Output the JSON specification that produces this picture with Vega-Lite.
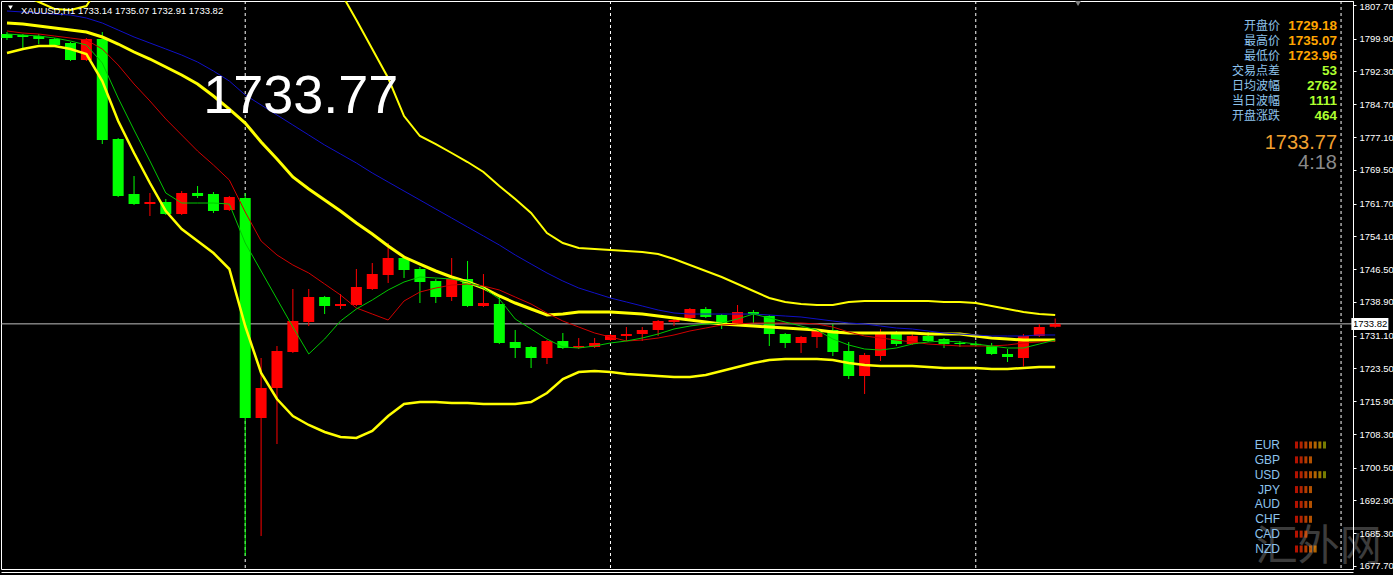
{
  "$schema": "https://vega.github.io/schema/vega-lite/v6.json",
  "width": 1352,
  "height": 568,
  "autosize": {"type": "pad"},
  "padding": 0,
  "background": "#000000",
  "config": {
    "view": {"stroke": "#ffffff", "strokeWidth": 1},
    "text": {"font": "Liberation Sans"}
  },
  "datasets": {
    "bars": [
      {"i":0,"o":1800.98,"h":1801.44,"l":1799.59,"c":1800.05,"fast":1800.98,"mid":1801.68,"slow":1806.31,"up":1810.94,"ma":1803.53,"dn":1796.58},
      {"i":1,"o":1800.75,"h":1800.98,"l":1797.51,"c":1800.29,"fast":1800.75,"mid":1801.21,"slow":1806.08,"up":1810.02,"ma":1803.30,"dn":1797.51},
      {"i":2,"o":1800.52,"h":1800.98,"l":1798.66,"c":1799.82,"fast":1800.52,"mid":1800.98,"slow":1805.85,"up":1808.40,"ma":1802.83,"dn":1798.20},
      {"i":3,"o":1799.82,"h":1800.05,"l":1798.20,"c":1798.43,"fast":1800.05,"mid":1800.52,"slow":1805.61,"up":1806.77,"ma":1802.37,"dn":1798.20},
      {"i":4,"o":1798.90,"h":1799.13,"l":1794.73,"c":1794.96,"fast":1799.36,"mid":1800.05,"slow":1805.38,"up":1806.54,"ma":1801.91,"dn":1797.51},
      {"i":5,"o":1794.96,"h":1800.05,"l":1794.73,"c":1799.82,"fast":1798.43,"mid":1799.59,"slow":1804.69,"up":1807.47,"ma":1801.44,"dn":1796.35},
      {"i":6,"o":1799.82,"h":1801.44,"l":1775.49,"c":1776.42,"fast":1794.26,"mid":1797.51,"slow":1803.53,"up":1813.26,"ma":1800.29,"dn":1790.09},
      {"i":7,"o":1776.65,"h":1776.88,"l":1763.21,"c":1763.45,"fast":1786.15,"mid":1793.80,"slow":1801.91,"up":1816.50,"ma":1798.66,"dn":1780.82},
      {"i":8,"o":1763.91,"h":1768.08,"l":1761.36,"c":1761.59,"fast":1778.74,"mid":1789.40,"slow":1800.29,"up":1820.21,"ma":1796.81,"dn":1773.41},
      {"i":9,"o":1761.59,"h":1764.14,"l":1758.81,"c":1762.06,"fast":1771.56,"mid":1785.46,"slow":1798.90,"up":1823.92,"ma":1795.19,"dn":1766.46},
      {"i":10,"o":1762.06,"h":1762.75,"l":1759.04,"c":1759.28,"fast":1764.14,"mid":1781.29,"slow":1797.51,"up":1826.70,"ma":1793.34,"dn":1759.97},
      {"i":11,"o":1759.28,"h":1764.60,"l":1759.04,"c":1764.14,"fast":1761.82,"mid":1777.58,"slow":1796.11,"up":1827.16,"ma":1791.48,"dn":1755.80},
      {"i":12,"o":1764.14,"h":1765.76,"l":1762.98,"c":1763.45,"fast":1761.82,"mid":1773.87,"slow":1794.49,"up":1826.70,"ma":1789.40,"dn":1753.02},
      {"i":13,"o":1763.91,"h":1764.37,"l":1759.51,"c":1759.97,"fast":1761.82,"mid":1770.63,"slow":1792.41,"up":1825.31,"ma":1786.62,"dn":1750.24},
      {"i":14,"o":1760.20,"h":1763.45,"l":1759.97,"c":1763.21,"fast":1761.59,"mid":1767.15,"slow":1790.09,"up":1822.53,"ma":1783.60,"dn":1746.53},
      {"i":15,"o":1762.98,"h":1764.14,"l":1680.03,"c":1712.01,"fast":1752.56,"mid":1759.74,"slow":1786.85,"up":1827.16,"ma":1780.36,"dn":1733.32},
      {"i":16,"o":1712.01,"h":1725.91,"l":1684.67,"c":1718.96,"fast":1746.07,"mid":1753.02,"slow":1784.53,"up":1830.87,"ma":1775.96,"dn":1722.43},
      {"i":17,"o":1718.96,"h":1728.69,"l":1705.98,"c":1727.53,"fast":1739.58,"mid":1749.78,"slow":1782.21,"up":1828.32,"ma":1772.02,"dn":1716.41},
      {"i":18,"o":1727.30,"h":1741.90,"l":1727.07,"c":1734.48,"fast":1733.09,"mid":1747.46,"slow":1779.90,"up":1823.69,"ma":1767.85,"dn":1712.47},
      {"i":19,"o":1734.25,"h":1741.90,"l":1733.32,"c":1740.04,"fast":1726.84,"mid":1745.61,"slow":1777.58,"up":1820.21,"ma":1765.07,"dn":1710.39},
      {"i":20,"o":1740.04,"h":1740.28,"l":1736.10,"c":1737.96,"fast":1730.31,"mid":1743.06,"slow":1775.26,"up":1816.97,"ma":1762.52,"dn":1708.76},
      {"i":21,"o":1737.96,"h":1740.74,"l":1737.26,"c":1738.42,"fast":1734.48,"mid":1740.51,"slow":1773.18,"up":1810.71,"ma":1759.97,"dn":1707.61},
      {"i":22,"o":1738.19,"h":1746.53,"l":1737.96,"c":1742.36,"fast":1737.26,"mid":1737.50,"slow":1771.09,"up":1804.22,"ma":1757.19,"dn":1707.37},
      {"i":23,"o":1741.90,"h":1747.92,"l":1741.67,"c":1745.37,"fast":1739.35,"mid":1736.10,"slow":1768.78,"up":1797.51,"ma":1754.64,"dn":1709.00},
      {"i":24,"o":1745.14,"h":1752.56,"l":1743.29,"c":1749.08,"fast":1741.67,"mid":1734.71,"slow":1766.69,"up":1790.79,"ma":1751.86,"dn":1712.47},
      {"i":25,"o":1749.08,"h":1749.54,"l":1744.45,"c":1746.30,"fast":1743.52,"mid":1739.12,"slow":1764.60,"up":1781.98,"ma":1749.31,"dn":1715.25},
      {"i":26,"o":1746.53,"h":1747.00,"l":1738.65,"c":1743.52,"fast":1744.68,"mid":1741.20,"slow":1762.52,"up":1777.35,"ma":1747.69,"dn":1715.72},
      {"i":27,"o":1743.75,"h":1744.21,"l":1738.65,"c":1740.04,"fast":1744.45,"mid":1742.13,"slow":1760.43,"up":1775.49,"ma":1746.07,"dn":1715.72},
      {"i":28,"o":1740.04,"h":1749.08,"l":1739.12,"c":1744.21,"fast":1744.21,"mid":1742.82,"slow":1758.35,"up":1773.41,"ma":1744.68,"dn":1715.48},
      {"i":29,"o":1744.21,"h":1748.39,"l":1737.73,"c":1737.96,"fast":1743.52,"mid":1743.06,"slow":1756.26,"up":1771.32,"ma":1743.52,"dn":1715.48},
      {"i":30,"o":1737.96,"h":1745.37,"l":1737.73,"c":1738.65,"fast":1742.13,"mid":1742.59,"slow":1754.18,"up":1769.01,"ma":1742.13,"dn":1715.25},
      {"i":31,"o":1738.42,"h":1740.28,"l":1729.15,"c":1729.39,"fast":1739.58,"mid":1741.67,"slow":1752.09,"up":1765.76,"ma":1740.28,"dn":1715.25},
      {"i":32,"o":1729.62,"h":1732.40,"l":1725.91,"c":1728.23,"fast":1734.95,"mid":1740.04,"slow":1749.78,"up":1762.75,"ma":1738.65,"dn":1715.25},
      {"i":33,"o":1728.46,"h":1728.69,"l":1723.59,"c":1725.91,"fast":1732.63,"mid":1738.42,"slow":1747.69,"up":1759.51,"ma":1737.26,"dn":1715.72},
      {"i":34,"o":1725.91,"h":1730.08,"l":1724.52,"c":1729.85,"fast":1730.31,"mid":1736.34,"slow":1745.61,"up":1754.87,"ma":1735.87,"dn":1717.80},
      {"i":35,"o":1729.85,"h":1731.70,"l":1727.99,"c":1728.23,"fast":1728.46,"mid":1734.48,"slow":1743.75,"up":1752.56,"ma":1736.10,"dn":1721.04},
      {"i":36,"o":1728.23,"h":1730.54,"l":1727.99,"c":1728.69,"fast":1728.23,"mid":1733.09,"slow":1742.13,"up":1751.40,"ma":1736.57,"dn":1722.67},
      {"i":37,"o":1728.46,"h":1730.54,"l":1728.23,"c":1729.39,"fast":1728.69,"mid":1731.70,"slow":1740.97,"up":1751.17,"ma":1736.57,"dn":1722.90},
      {"i":38,"o":1730.08,"h":1731.47,"l":1729.85,"c":1731.24,"fast":1729.39,"mid":1730.78,"slow":1739.81,"up":1750.93,"ma":1736.57,"dn":1722.67},
      {"i":39,"o":1731.01,"h":1733.09,"l":1729.85,"c":1731.47,"fast":1729.85,"mid":1729.85,"slow":1738.89,"up":1750.70,"ma":1736.34,"dn":1722.20},
      {"i":40,"o":1731.47,"h":1733.09,"l":1729.85,"c":1732.40,"fast":1730.54,"mid":1730.08,"slow":1737.96,"up":1750.47,"ma":1736.10,"dn":1721.97},
      {"i":41,"o":1732.40,"h":1734.71,"l":1731.01,"c":1734.48,"fast":1731.47,"mid":1730.54,"slow":1737.03,"up":1750.01,"ma":1735.64,"dn":1721.74},
      {"i":42,"o":1734.25,"h":1735.41,"l":1733.32,"c":1734.71,"fast":1732.63,"mid":1731.24,"slow":1736.34,"up":1748.85,"ma":1735.18,"dn":1721.51},
      {"i":43,"o":1735.18,"h":1737.50,"l":1734.48,"c":1737.26,"fast":1733.32,"mid":1732.17,"slow":1736.10,"up":1747.46,"ma":1734.71,"dn":1721.51},
      {"i":44,"o":1737.26,"h":1737.73,"l":1735.18,"c":1735.41,"fast":1733.79,"mid":1732.86,"slow":1736.10,"up":1746.07,"ma":1734.25,"dn":1721.97},
      {"i":45,"o":1735.87,"h":1736.10,"l":1732.63,"c":1733.79,"fast":1734.02,"mid":1733.56,"slow":1736.10,"up":1744.68,"ma":1733.79,"dn":1722.90},
      {"i":46,"o":1733.79,"h":1738.19,"l":1733.56,"c":1736.57,"fast":1734.95,"mid":1733.79,"slow":1736.10,"up":1743.06,"ma":1733.56,"dn":1723.83},
      {"i":47,"o":1736.57,"h":1737.03,"l":1734.02,"c":1736.10,"fast":1736.10,"mid":1734.02,"slow":1736.10,"up":1741.43,"ma":1733.32,"dn":1724.75},
      {"i":48,"o":1735.64,"h":1735.87,"l":1728.69,"c":1731.47,"fast":1735.18,"mid":1734.02,"slow":1735.87,"up":1739.81,"ma":1733.09,"dn":1725.45},
      {"i":49,"o":1731.47,"h":1731.70,"l":1728.23,"c":1729.39,"fast":1734.25,"mid":1734.02,"slow":1735.64,"up":1738.89,"ma":1732.86,"dn":1725.68},
      {"i":50,"o":1729.39,"h":1731.01,"l":1727.07,"c":1730.78,"fast":1733.32,"mid":1734.02,"slow":1735.41,"up":1738.42,"ma":1732.63,"dn":1725.68},
      {"i":51,"o":1730.78,"h":1732.63,"l":1728.23,"c":1732.17,"fast":1732.40,"mid":1733.79,"slow":1734.95,"up":1738.19,"ma":1732.40,"dn":1725.68},
      {"i":52,"o":1732.40,"h":1733.79,"l":1726.37,"c":1727.30,"fast":1730.31,"mid":1733.09,"slow":1734.48,"up":1738.19,"ma":1731.93,"dn":1725.45},
      {"i":53,"o":1727.53,"h":1729.62,"l":1721.04,"c":1721.74,"fast":1728.92,"mid":1731.93,"slow":1734.02,"up":1738.89,"ma":1731.70,"dn":1724.75},
      {"i":54,"o":1721.74,"h":1727.07,"l":1717.57,"c":1726.61,"fast":1727.99,"mid":1731.01,"slow":1733.79,"up":1739.12,"ma":1731.70,"dn":1724.29},
      {"i":55,"o":1726.37,"h":1732.63,"l":1725.22,"c":1731.47,"fast":1727.76,"mid":1730.54,"slow":1733.32,"up":1739.12,"ma":1731.70,"dn":1724.06},
      {"i":56,"o":1731.70,"h":1732.17,"l":1728.69,"c":1729.15,"fast":1728.23,"mid":1730.08,"slow":1732.86,"up":1739.12,"ma":1731.70,"dn":1724.06},
      {"i":57,"o":1729.15,"h":1731.70,"l":1728.92,"c":1731.01,"fast":1729.15,"mid":1729.62,"slow":1732.63,"up":1739.12,"ma":1731.70,"dn":1724.06},
      {"i":58,"o":1731.01,"h":1731.93,"l":1729.62,"c":1729.85,"fast":1729.62,"mid":1729.15,"slow":1732.17,"up":1739.12,"ma":1731.47,"dn":1723.83},
      {"i":59,"o":1730.31,"h":1730.54,"l":1728.23,"c":1729.15,"fast":1729.85,"mid":1728.92,"slow":1731.70,"up":1738.89,"ma":1731.47,"dn":1723.59},
      {"i":60,"o":1729.39,"h":1729.85,"l":1728.46,"c":1729.15,"fast":1729.62,"mid":1728.69,"slow":1731.47,"up":1738.89,"ma":1731.47,"dn":1723.59},
      {"i":61,"o":1729.18,"h":1729.85,"l":1728.60,"c":1728.85,"fast":1729.15,"mid":1728.69,"slow":1731.24,"up":1738.65,"ma":1731.01,"dn":1723.59},
      {"i":62,"o":1728.69,"h":1729.39,"l":1726.61,"c":1726.84,"fast":1728.69,"mid":1728.69,"slow":1731.01,"up":1737.96,"ma":1730.54,"dn":1723.36},
      {"i":63,"o":1726.84,"h":1727.99,"l":1724.98,"c":1726.14,"fast":1728.23,"mid":1728.92,"slow":1731.01,"up":1737.26,"ma":1730.31,"dn":1723.36},
      {"i":64,"o":1725.91,"h":1731.47,"l":1723.96,"c":1731.01,"fast":1728.23,"mid":1729.39,"slow":1731.01,"up":1736.57,"ma":1730.08,"dn":1723.59},
      {"i":65,"o":1731.01,"h":1733.79,"l":1730.78,"c":1733.09,"fast":1729.15,"mid":1729.62,"slow":1731.24,"up":1736.10,"ma":1730.08,"dn":1723.83},
      {"i":66,"o":1733.14,"h":1735.07,"l":1732.91,"c":1733.82,"fast":1730.08,"mid":1729.85,"slow":1731.24,"up":1735.87,"ma":1730.08,"dn":1723.83}
    ],
    "days": [{"i": 15}, {"i": 38}, {"i": 61}, {"i": 84}],
    "info": [
      {"n": 0, "k": "开盘价", "v": "1729.18", "g": "price"},
      {"n": 1, "k": "最高价", "v": "1735.07", "g": "price"},
      {"n": 2, "k": "最低价", "v": "1723.96", "g": "price"},
      {"n": 3, "k": "交易点差", "v": "53", "g": "points"},
      {"n": 4, "k": "日均波幅", "v": "2762", "g": "points"},
      {"n": 5, "k": "当日波幅", "v": "1111", "g": "points"},
      {"n": 6, "k": "开盘涨跌", "v": "464", "g": "points"}
    ],
    "quote": [
      {"n": 0, "t": "1733.77", "g": "bid"},
      {"n": 1, "t": "4:18", "g": "timer"}
    ],
    "strength": [
      {"cur": "EUR", "k": 1}, {"cur": "EUR", "k": 2}, {"cur": "EUR", "k": 3}, {"cur": "EUR", "k": 4}, {"cur": "EUR", "k": 5}, {"cur": "EUR", "k": 6}, {"cur": "EUR", "k": 7},
      {"cur": "GBP", "k": 1}, {"cur": "GBP", "k": 2}, {"cur": "GBP", "k": 3}, {"cur": "GBP", "k": 4},
      {"cur": "USD", "k": 1}, {"cur": "USD", "k": 2}, {"cur": "USD", "k": 3}, {"cur": "USD", "k": 4}, {"cur": "USD", "k": 5}, {"cur": "USD", "k": 6}, {"cur": "USD", "k": 7},
      {"cur": "JPY", "k": 1}, {"cur": "JPY", "k": 2}, {"cur": "JPY", "k": 3}, {"cur": "JPY", "k": 4},
      {"cur": "AUD", "k": 1}, {"cur": "AUD", "k": 2}, {"cur": "AUD", "k": 3}, {"cur": "AUD", "k": 4},
      {"cur": "CHF", "k": 1}, {"cur": "CHF", "k": 2}, {"cur": "CHF", "k": 3}, {"cur": "CHF", "k": 4},
      {"cur": "CAD", "k": 1}, {"cur": "CAD", "k": 2}, {"cur": "CAD", "k": 3},
      {"cur": "NZD", "k": 1}, {"cur": "NZD", "k": 2}, {"cur": "NZD", "k": 3}, {"cur": "NZD", "k": 4}, {"cur": "NZD", "k": 5}
    ]
  },
  "layer": [
    {
      "data": {"name": "bars"},
      "layer": [
        {
          "data": {"name": "days"},
          "mark": {"type": "rule", "color": "#ffffff", "strokeDash": [3, 3], "strokeWidth": 1},
          "encoding": {
            "x": {
              "field": "i", "type": "quantitative",
              "scale": {"domain": [-0.0625, 84.4375], "nice": false, "zero": false},
              "axis": {"orient": "bottom", "labels": false, "ticks": false, "grid": false, "title": null, "domain": true, "domainColor": "#ffffff", "offset": 3, "minExtent": 4, "maxExtent": 4}
            }
          }
        },
        {
          "data": {"values": [{"bid": 1733.82}]},
          "mark": {"type": "rule", "color": "#c0c0c0", "strokeWidth": 1},
          "encoding": {"y": {"field": "bid", "type": "quantitative"}}
        },
        {
          "data": {"values": [{"t": "汇外网"}]},
          "mark": {"type": "text", "align": "center", "baseline": "alphabetic", "fontSize": 42, "font": "Noto Sans CJK SC", "color": "#3c3c3c"},
          "encoding": {"x": {"datum": 82.6}, "y": {"datum": 1679.1}, "text": {"field": "t"}}
        },
        {
          "mark": {"type": "rule", "strokeWidth": 1, "clip": true},
          "encoding": {
            "x": {"field": "i", "type": "quantitative"},
            "y": {
              "field": "l", "type": "quantitative",
              "scale": {"domain": [1677.02, 1808.63], "nice": false, "zero": false},
              "axis": {
                "orient": "right", "title": null, "grid": false, "zindex": 1,
                "values": [1807.7, 1799.9, 1792.3, 1784.7, 1777.1, 1769.5, 1761.7, 1754.1, 1746.5, 1738.9, 1731.1, 1723.5, 1715.9, 1708.3, 1700.5, 1692.9, 1685.3, 1677.7],
                "tickCount": 40,
                "format": ".2f", "labelColor": "#ffffff", "labelFont": "Liberation Sans", "labelFontSize": 9.5,
                "labelOverlap": false, "labelFlush": 5, "labelFlushOffset": 4,
                "tickColor": "#ffffff", "tickSize": 3, "labelPadding": 3, "domainColor": "#ffffff",
                "minExtent": 41, "maxExtent": 41
              }
            },
            "y2": {"field": "h"},
            "color": {"condition": {"test": "datum.c > datum.o", "value": "#ff0000"}, "value": "#00ff00"}
          }
        },
        {
          "mark": {"type": "bar", "size": 11, "clip": true},
          "encoding": {
            "x": {"field": "i", "type": "quantitative"},
            "y": {"field": "o", "type": "quantitative", "scale": {"domain": [1677.02, 1808.63], "nice": false, "zero": false}},
            "y2": {"field": "c"},
            "color": {"condition": {"test": "datum.c > datum.o", "value": "#ff0000"}, "value": "#00ff00"}
          }
        },
        {
          "mark": {"type": "line", "color": "#ffff00", "strokeWidth": 2, "clip": true},
          "encoding": {"x": {"field": "i", "type": "quantitative"}, "y": {"field": "up", "type": "quantitative"}}
        },
        {
          "mark": {"type": "line", "color": "#ffff00", "strokeWidth": 3, "clip": true},
          "encoding": {"x": {"field": "i", "type": "quantitative"}, "y": {"field": "ma", "type": "quantitative"}}
        },
        {
          "mark": {"type": "line", "color": "#ffff00", "strokeWidth": 2.5, "clip": true},
          "encoding": {"x": {"field": "i", "type": "quantitative"}, "y": {"field": "dn", "type": "quantitative"}}
        },
        {
          "mark": {"type": "line", "color": "#1010c8", "strokeWidth": 1, "clip": true},
          "encoding": {"x": {"field": "i", "type": "quantitative"}, "y": {"field": "slow", "type": "quantitative"}}
        },
        {
          "mark": {"type": "line", "color": "#d00000", "strokeWidth": 1, "clip": true},
          "encoding": {"x": {"field": "i", "type": "quantitative"}, "y": {"field": "mid", "type": "quantitative"}}
        },
        {
          "mark": {"type": "line", "color": "#00c800", "strokeWidth": 1, "clip": true},
          "encoding": {"x": {"field": "i", "type": "quantitative"}, "y": {"field": "fast", "type": "quantitative"}}
        },
        {
          "data": {"values": [{"t": "1733.77"}]},
          "mark": {"type": "text", "align": "left", "baseline": "alphabetic", "fontSize": 54, "font": "Liberation Sans", "color": "#ffffff"},
          "encoding": {"x": {"datum": 12.35}, "y": {"datum": 1782.68}, "text": {"field": "t"}}
        },
        {
          "data": {"values": [{"t": "XAUUSD,H1  1733.14 1735.07 1732.91 1733.82"}]},
          "mark": {"type": "text", "align": "left", "baseline": "alphabetic", "fontSize": 9.5, "font": "Liberation Sans", "color": "#ffffff"},
          "encoding": {"x": {"datum": 0.875}, "y": {"datum": 1805.73}, "text": {"field": "t"}}
        },
        {
          "data": {"values": [{"t": "chart menu"}]},
          "mark": {"type": "point", "shape": "triangle-down", "filled": true, "size": 22, "color": "#ffffff", "opacity": 1, "clip": true},
          "encoding": {"x": {"datum": 0.22}, "y": {"datum": 1807.12}}
        },
        {
          "data": {"values": [{"t": "chart shift"}]},
          "mark": {"type": "point", "shape": "triangle-down", "filled": true, "size": 70, "color": "#808080", "opacity": 1, "clip": true},
          "encoding": {"x": {"datum": 67.44}, "y": {"datum": 1808.3}}
        },
        {
          "data": {"values": [{"bid": 1733.82}]},
          "mark": {"type": "rect", "color": "#ffffff"},
          "encoding": {"x": {"datum": 84.65}, "x2": {"datum": 86.98}, "y": {"datum": 1735.2}, "y2": {"datum": 1732.4}}
        },
        {
          "data": {"values": [{"bid": 1733.82}]},
          "mark": {"type": "text", "align": "left", "baseline": "middle", "fontSize": 9.5, "font": "Liberation Sans", "color": "#000000"},
          "encoding": {"x": {"datum": 84.75}, "y": {"field": "bid", "type": "quantitative"}, "text": {"field": "bid", "type": "quantitative", "format": ".2f"}}
        }
      ]
    },
    {
      "data": {"name": "info"},
      "encoding": {
        "y": {"field": "n", "type": "ordinal", "scale": {"type": "point", "domain": [0, 1, 2, 3, 4, 5, 6], "range": [25, 115], "padding": 0}, "axis": null}
      },
      "layer": [
        {
          "mark": {"type": "text", "align": "right", "baseline": "middle", "font": "Noto Sans CJK SC", "fontSize": 12, "color": "#8ec3ec"},
          "encoding": {
            "x": {"datum": 79.875, "scale": {"domain": [-0.0625, 84.4375], "nice": false, "zero": false}, "axis": null},
            "text": {"field": "k"}
          }
        },
        {
          "mark": {"type": "text", "align": "right", "baseline": "middle", "font": "Liberation Sans", "fontSize": 13.5, "fontWeight": "bold"},
          "encoding": {
            "x": {"datum": 83.4375, "scale": {"domain": [-0.0625, 84.4375], "nice": false, "zero": false}, "axis": null},
            "text": {"field": "v"},
            "color": {"field": "g", "type": "nominal", "scale": {"domain": ["price", "points"], "range": ["#ffa500", "#adff2f"]}, "legend": null}
          }
        }
      ]
    },
    {
      "data": {"name": "quote"},
      "mark": {"type": "text", "align": "right", "baseline": "middle", "font": "Liberation Sans", "fontSize": 20},
      "encoding": {
        "x": {"datum": 83.4375, "scale": {"domain": [-0.0625, 84.4375], "nice": false, "zero": false}, "axis": null},
        "y": {"field": "n", "type": "ordinal", "scale": {"type": "point", "domain": [0, 1], "range": [142, 162], "padding": 0}, "axis": null},
        "text": {"field": "t"},
        "color": {"field": "g", "type": "nominal", "scale": {"domain": ["bid", "timer"], "range": ["#f0a030", "#8a8a8a"]}, "legend": null}
      }
    },
    {
      "data": {"name": "strength"},
      "encoding": {
        "y": {"field": "cur", "type": "nominal", "scale": {"type": "point", "domain": ["EUR", "GBP", "USD", "JPY", "AUD", "CHF", "CAD", "NZD"], "range": [444, 548], "padding": 0}, "axis": null}
      },
      "layer": [
        {
          "mark": {"type": "tick", "thickness": 3, "size": 7, "orient": "vertical"},
          "encoding": {
            "x": {"field": "k", "type": "quantitative", "scale": {"domain": [1, 7], "range": [1295.5, 1323.5], "nice": false, "zero": false}, "axis": null},
            "color": {"field": "k", "type": "ordinal", "scale": {"domain": [1, 2, 3, 4, 5, 6, 7], "range": ["#ff1a00", "#ff3300", "#ff5500", "#ff7400", "#ff9000", "#e0a800", "#a8b000"]}, "legend": null}
          }
        },
        {
          "transform": [{"aggregate": [{"op": "max", "field": "k", "as": "level"}], "groupby": ["cur"]}],
          "mark": {"type": "text", "align": "right", "baseline": "middle", "font": "Liberation Sans", "fontSize": 12, "color": "#8ec3ec"},
          "encoding": {"x": {"datum": -2.54}, "text": {"field": "cur"}}
        }
      ]
    }
  ],
  "resolve": {"scale": {"x": "independent", "y": "independent", "color": "independent"}}
}
